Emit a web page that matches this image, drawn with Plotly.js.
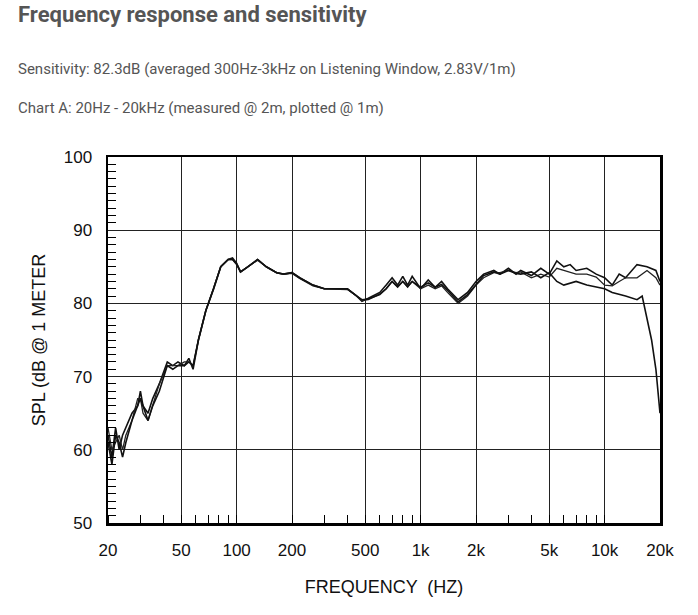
<!DOCTYPE html>
<html><head><meta charset="utf-8">
<script src="https://cdn.plot.ly/plotly-3.0.1.min.js"></script>
<style>
body{margin:0;background:#fff;font-family:Roboto,sans-serif;}
#h{position:absolute;left:18px;top:2px;font-size:22px;font-weight:bold;color:#555;}
.p{position:absolute;left:18px;font-size:15px;color:#555;}
#chart{position:absolute;left:0;top:0;width:698px;height:615px;}
</style></head><body>
<div id="chart"></div>
<div id="h">Frequency response and sensitivity</div>
<div class="p" style="top:60px">Sensitivity: 82.3dB (averaged 300Hz-3kHz on Listening Window, 2.83V/1m)</div>
<div class="p" style="top:99px">Chart A: 20Hz - 20kHz (measured @ 2m, plotted @ 1m)</div>
<script>
const freqA = [20,21,22,23,24,25,27,29,30,31,33,35,38,42,45,48,52,55,58,62,68,75,82,90,95,100,105,115,130,145,165,180,200,220,260,300,350,400,450,480,520,600,650,700,750,800,850,900,1000,1100,1200,1300,1400,1600,1800,2000,2200,2500,2700,3000,3300,3500,4000,4500,5000,5500,6000,6500,7000,8000,9000,10000,11000,12000,13000,15000,17000,19000,20000];
const splA = [62,59,63,60,62,63,65,66,68,66,65,67,69,72,71.5,72,71.5,72.5,71,75,79,82,85,86,86.2,85.5,84.3,85,86,85,84.2,84,84.2,83.5,82.5,82,82,82,81,80.3,80.7,81.5,82.5,83.5,82.5,83.7,82.5,83.7,82,83.2,82.2,83,82,80.5,81.5,83,84,84.5,84,84.8,84,84.5,83.8,84.8,84,85.8,85,85.3,84.5,84.8,84,83.5,82.5,84,83.5,85.3,85,84.5,83];
const splB = [63,60,61,62,60,62,64,67,67,65,64,66,69,71.5,71.5,71.5,72,72,71.5,75,79,82,85,86,86,85.3,84.3,85,85.9,85,84.2,84,84.1,83.4,82.4,82,81.9,81.9,81,80.4,80.5,81.3,82,83,82.2,83,82.2,83,82,82.5,82,82.4,81.5,80,81,82.5,83.5,84.2,84.2,84.5,84.2,84.3,83.5,84,83.6,84.8,84.5,84.2,84,84,83.6,82.5,82.4,83,83.5,83.5,84.5,83.5,82.5];
const freqC = [20,21,22,23,24,25,27,29,30,31,33,35,38,42,45,48,52,55,58,62,68,75,82,90,95,100,105,115,130,145,165,180,200,220,260,300,350,400,450,480,520,600,650,700,750,800,850,900,1000,1100,1200,1300,1400,1600,1800,2000,2200,2500,2700,3000,3300,3500,4000,4500,5000,5500,6000,7000,8000,10000,11000,13000,15000,16000,17000,18000,19000,20000];
const splC = [61,58,62,61,59,61,64,66,67,66,64,66,68,71.5,71,71.5,71.5,72,71.5,75,79,82,85,86,86,85.4,84.3,85,86,85,84.2,84,84.2,83.5,82.5,82,82,82,81,80.5,80.6,81.2,82,83,82.3,83,82.3,83,82.2,82.8,82.2,82.6,81.8,80.2,81.2,82.6,83.8,84.3,84,84.5,84.1,84,84.3,83.5,84.2,83,82.5,83,82.5,82,81.5,81,80.5,81,78,75,71,65];
const xTicks = [20,50,100,200,500,1000,2000,5000,10000,20000];
const xLabels = ['20','50','100','200','500','1k','2k','5k','10k','20k'];

const line = {color:'#111', width:1.6};
const data = [
  {x:freqA, y:splA, mode:'lines', line:line},
  {x:freqA, y:splB, mode:'lines', line:{color:'#222', width:1.3}},
  {x:freqC, y:splC, mode:'lines', line:line}
];
const ax = {showline:true, linecolor:'#000', linewidth:2.5, mirror:true, gridcolor:'#222', gridwidth:1, zeroline:false,
  tickfont:{family:'Arial, Liberation Sans', size:17, color:'#111'}};
const layout = {
  width:698, height:615, showlegend:false,
  margin:{l:108, r:38, t:157, b:92},
  paper_bgcolor:'rgba(0,0,0,0)', plot_bgcolor:'#fff',
  xaxis:Object.assign({}, ax, {type:'log', range:[Math.log10(20), Math.log10(20000)],
    tickvals:xTicks, ticktext:xLabels, ticks:'', ticklen:0, ticklabelstandoff:10,
    minor:{ticks:'inside', ticklen:8, tickcolor:'#000', dtick:'D1', showgrid:false},
    title:{text:'FREQUENCY  (HZ)', font:{family:'Arial, Liberation Sans', size:18, color:'#111'}, standoff:22}}),
  yaxis:Object.assign({}, ax, {range:[50,100], dtick:10, ticks:'', ticklabelstandoff:10,
    minor:{ticks:'inside', ticklen:8, tickcolor:'#000', dtick:1, showgrid:false},
    title:{text:'SPL (dB @ 1 METER', font:{family:'Arial, Liberation Sans', size:18, color:'#111'}, standoff:14}})
};
Plotly.newPlot('chart', data, layout, {displayModeBar:false, staticPlot:true});
</script>
</body></html>
